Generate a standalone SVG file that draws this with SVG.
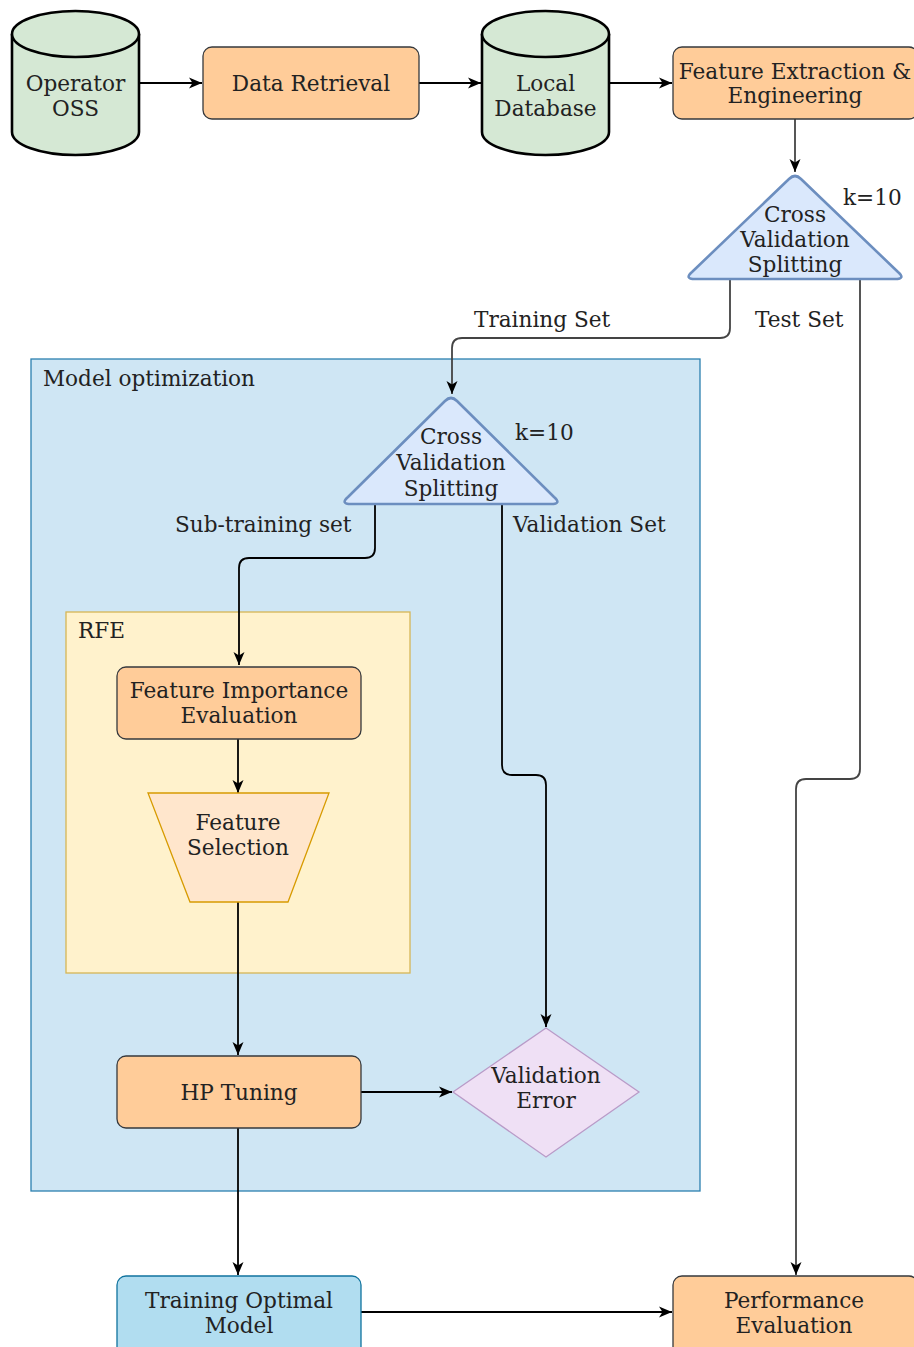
<svg xmlns="http://www.w3.org/2000/svg" width="914" height="1347" viewBox="0 0 914 1347">
<style>
text{font-family:"DejaVu Serif","Liberation Serif",serif;font-size:21.6px;fill:#222;}
.c{text-anchor:middle;}
.cyl{fill:#d5e8d4;stroke:#000;stroke-width:2.6;}
.box{fill:#ffcc99;stroke:#36393d;stroke-width:1.3;}
.tri{fill:#dae8fc;stroke:#6c8ebf;stroke-width:2.6;stroke-linejoin:round;}
.ln{fill:none;stroke:#000;stroke-width:1.8;}
.lg{fill:none;stroke:#444;stroke-width:1.8;}
</style>
<defs>
<marker id="a" markerUnits="userSpaceOnUse" markerWidth="14" markerHeight="14" viewBox="0 0 14 14" refX="13" refY="7" orient="auto">
<path d="M0,1.5 L13,7 L0,12.5 L3.5,7 Z" fill="#000"/>
</marker>
</defs>
<g id="model-optimization">
<rect x="31" y="359" width="669" height="832" fill="#cfe6f4" stroke="#2b80b0" stroke-width="1.3"/>
<text x="43" y="386">Model optimization</text>
</g>
<g id="rfe">
<rect x="66" y="612" width="344" height="361" fill="#fff2cc" stroke="#d6b656" stroke-width="1.3"/>
<text x="78" y="638">RFE</text>
</g>
<g id="connectors">
<path class="ln" d="M139,83 L202,83" marker-end="url(#a)"/>
<path class="ln" d="M419,83 L481,83" marker-end="url(#a)"/>
<path class="ln" d="M609,83 L672,83" marker-end="url(#a)"/>
<path class="lg" d="M795,119 L795,172" marker-end="url(#a)"/>
<path class="lg" d="M730,279 L730,328 Q730,338 720,338 L462,338 Q452,338 452,348 L452,394" marker-end="url(#a)"/>
<path class="lg" d="M860,279 L860,769 Q860,779 850,779 L806,779 Q796,779 796,789 L796,1275" marker-end="url(#a)"/>
<path class="ln" d="M375,504 L375,548 Q375,558 365,558 L249,558 Q239,558 239,568 L239,665" marker-end="url(#a)"/>
<path class="ln" d="M502,504 L502,765 Q502,775 512,775 L536,775 Q546,775 546,785 L546,1027" marker-end="url(#a)"/>
<path class="ln" d="M238,739 L238,793" marker-end="url(#a)"/>
<path class="ln" d="M238,902 L238,1055" marker-end="url(#a)"/>
<path class="ln" d="M361,1092 L452,1092" marker-end="url(#a)"/>
<path class="ln" d="M238,1128 L238,1275" marker-end="url(#a)"/>
<path class="ln" d="M361,1312 L672,1312" marker-end="url(#a)"/>
<text x="474" y="327">Training Set</text>
<text x="755" y="327">Test Set</text>
<text x="175" y="532">Sub-training set</text>
<text x="513" y="532">Validation Set</text>
</g>
<g id="operator-oss">
<path class="cyl" d="M12,34 A63.5,23 0 0 1 139,34 L139,132 A63.5,23 0 0 1 12,132 Z"/>
<path class="cyl" fill="none" d="M12,34 A63.5,23 0 0 0 139,34"/>
<text class="c" x="75.5" y="91">Operator</text>
<text class="c" x="75.5" y="116">OSS</text>
</g>
<g id="data-retrieval">
<rect class="box" x="203" y="47" width="216" height="72" rx="9"/>
<text class="c" x="311" y="91">Data Retrieval</text>
</g>
<g id="local-database">
<path class="cyl" d="M482,34 A63.5,23 0 0 1 609,34 L609,132 A63.5,23 0 0 1 482,132 Z"/>
<path class="cyl" fill="none" d="M482,34 A63.5,23 0 0 0 609,34"/>
<text class="c" x="545.5" y="91">Local</text>
<text class="c" x="545.5" y="116">Database</text>
</g>
<g id="feature-extraction">
<rect class="box" x="673" y="47" width="245" height="72" rx="9"/>
<text class="c" x="795" y="79">Feature Extraction &amp;</text>
<text class="c" x="795" y="103">Engineering</text>
</g>
<g id="cv-split-1">
<path class="tri" d="M789,179 Q795,173 801,179 L898,272 Q906,279 895,279 L695,279 Q684,279 692,272 Z"/>
<text class="c" x="795" y="222">Cross</text>
<text class="c" x="795" y="247">Validation</text>
<text class="c" x="795" y="272">Splitting</text>
<text x="843" y="205">k=10</text>
</g>
<g id="cv-split-2">
<path class="tri" d="M445,401 Q451,395 457,401 L554,497 Q562,504 551,504 L351,504 Q340,504 348,497 Z"/>
<text class="c" x="451" y="444">Cross</text>
<text class="c" x="451" y="470">Validation</text>
<text class="c" x="451" y="496">Splitting</text>
<text x="515" y="440">k=10</text>
</g>
<g id="feature-importance">
<rect class="box" x="117" y="667" width="244" height="72" rx="9"/>
<text class="c" x="239" y="698">Feature Importance</text>
<text class="c" x="239" y="723">Evaluation</text>
</g>
<g id="feature-selection">
<polygon points="148,793 329,793 288,902 190,902" fill="#ffe6cc" stroke="#d79b00" stroke-width="1.3"/>
<text class="c" x="238" y="830">Feature</text>
<text class="c" x="238" y="855">Selection</text>
</g>
<g id="hp-tuning">
<rect class="box" x="117" y="1056" width="244" height="72" rx="9"/>
<text class="c" x="239" y="1100">HP Tuning</text>
</g>
<g id="validation-error">
<polygon points="546,1028 639,1092 546,1157 453,1092" fill="#efe0f5" stroke="#b99bc8" stroke-width="1.3"/>
<text class="c" x="546" y="1083">Validation</text>
<text class="c" x="546" y="1108">Error</text>
</g>
<g id="training-optimal-model">
<rect x="117" y="1276" width="244" height="80" rx="9" fill="#b1ddf0" stroke="#10739e" stroke-width="1.3"/>
<text class="c" x="239" y="1308" textLength="188" lengthAdjust="spacingAndGlyphs">Training Optimal</text>
<text class="c" x="239" y="1333">Model</text>
</g>
<g id="performance-evaluation">
<rect class="box" x="673" y="1276" width="245" height="80" rx="9"/>
<text class="c" x="794" y="1308">Performance</text>
<text class="c" x="794" y="1333">Evaluation</text>
</g>
</svg>
